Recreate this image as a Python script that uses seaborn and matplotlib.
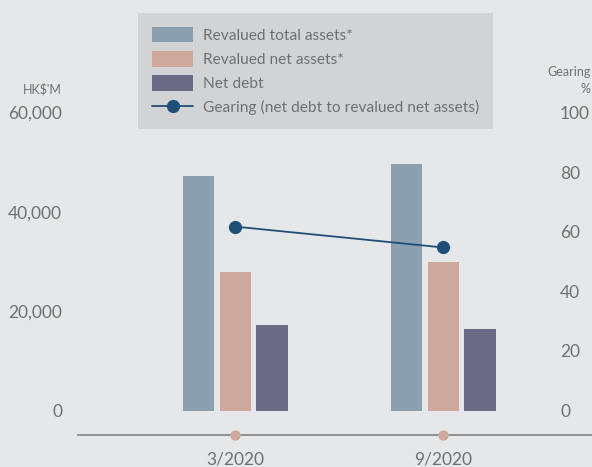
import numpy as np
import pandas as pd
import matplotlib
matplotlib.use("Agg")
import matplotlib.pyplot as plt
from matplotlib.lines import Line2D
import seaborn as sns

# Data (HK$ million, gearing in %)
periods = ["3/2020", "9/2020"]
revalued_total_assets = [47200, 49600]
revalued_net_assets = [27900, 29900]
net_debt = [17200, 16400]
gearing = [61.7, 54.7]

series_names = ["Revalued total assets*", "Revalued net assets*", "Net debt"]
series_colors = ["#8c9fae", "#cda89b", "#6a6a87"]
line_label = "Gearing (net debt to revalued net assets)"
line_color = "#1f4e79"

left_ticks = [0, 20000, 40000, 60000]
right_ticks = [0, 20, 40, 60, 80, 100]

bg = "#e6e7e9"
text_color = "#6f7073"

sns.set_theme(style="white")
plt.rcParams["font.family"] = ["Lato", "DejaVu Sans"]
plt.rcParams["font.weight"] = "normal"

df = pd.DataFrame({
    "period": np.repeat(periods, 3),
    "series": series_names * len(periods),
    "value": np.ravel(np.column_stack([revalued_total_assets, revalued_net_assets, net_debt])),
})

fig = plt.figure(figsize=(5.92, 4.67), dpi=100, facecolor=bg)
ax = fig.add_axes([78 / 592, 32.5 / 467, 1 - 78 / 592, 322 / 467])
ax.set_facecolor(bg)

sns.barplot(data=df, x="period", y="value", hue="series", order=periods,
            hue_order=series_names, palette=series_colors, width=0.527,
            gap=0.15, saturation=1, linewidth=0, ax=ax)

handles, labels = ax.get_legend_handles_labels()
ax.get_legend().remove()

y_bottom = -4830
ax.set_ylim(y_bottom, 60000)
ax.set_xlim(-0.757, 1.714)
ax.set_yticks(left_ticks)
ax.set_yticklabels([f"{v:,}" for v in left_ticks])
ax.set_xlabel("")
ax.set_ylabel("")
for s in ["top", "right", "left"]:
    ax.spines[s].set_visible(False)
ax.spines["bottom"].set_color("#8a8a8a")
ax.spines["bottom"].set_linewidth(1.3)
ax.tick_params(axis="y", length=0, pad=11.5, labelsize=12.5, labelcolor=text_color)
ax.tick_params(axis="x", length=0, pad=12.5, labelsize=12.5, labelcolor=text_color)

# round markers on the category axis
ax.scatter(range(len(periods)), [0] * len(periods), s=55, color="#cda89b",
           transform=ax.get_xaxis_transform(), clip_on=False, zorder=5, linewidths=0)

ax2 = ax.twinx()
ax2.set_ylim(y_bottom / 600, 100)
sns.lineplot(x=np.arange(len(periods)), y=gearing, ax=ax2, color=line_color,
             marker="o", markersize=9.5, markeredgewidth=0, linewidth=1.3)
ax2.set_xlim(-0.757, 1.714)
ax2.set_yticks(right_ticks)
ax2.set_yticklabels([str(v) for v in right_ticks])
for s in ax2.spines.values():
    s.set_visible(False)
ax2.tick_params(axis="y", length=0, pad=-23, labelsize=12.5, labelcolor=text_color)
ax2.set_ylabel("")

fig.text(62 / 592, 1 - 89 / 467, "HK$'M", ha="right", va="center", fontsize=9, color=text_color)
fig.text(591 / 592, 1 - 72 / 467, "Gearing", ha="right", va="center", fontsize=9, color=text_color)
fig.text(590 / 592, 1 - 89 / 467, "%", ha="right", va="center", fontsize=9, color=text_color)

gear_handle = Line2D([], [], color=line_color, marker="o", markersize=9.5,
                     markeredgewidth=0, linewidth=1.3)
leg = fig.legend(handles + [gear_handle], labels + [line_label],
                 loc="upper left", bbox_to_anchor=(138 / 592, 1 - 13 / 467),
                 bbox_transform=fig.transFigure, frameon=True, fancybox=False,
                 facecolor="#d1d3d4", edgecolor="none", framealpha=1,
                 fontsize=11.2, handlelength=2.65, handleheight=1.15,
                 handletextpad=0.6, labelspacing=0.52, borderpad=0.9,
                 borderaxespad=0)
for t in leg.get_texts():
    t.set_color(text_color)

fig.savefig("out.png", dpi=100, facecolor=bg)
